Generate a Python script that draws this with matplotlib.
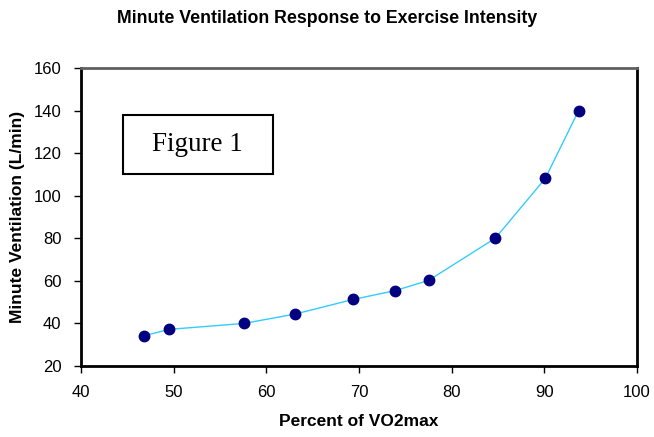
import matplotlib
matplotlib.use("Agg")
import matplotlib.pyplot as plt
from matplotlib.patches import Rectangle

# data
pct_vo2max = [46.8, 49.5, 57.6, 63.1, 69.4, 73.9, 77.5, 84.7, 90.1, 93.7]
ventilation = [34.2, 37.2, 40.0, 44.4, 51.3, 55.4, 60.2, 80.0, 108.1, 140.0]
x_ticks = [40, 50, 60, 70, 80, 90, 100]
y_ticks = [20, 40, 60, 80, 100, 120, 140, 160]

plt.rcParams['font.family'] = ['Liberation Sans', 'DejaVu Sans']

fig = plt.figure(figsize=(6.54, 4.37), dpi=100)
ax = fig.add_axes([0.1239, 0.1625, 0.8501, 0.6819])

ax.plot(pct_vo2max, ventilation, color='#33CCFF', linewidth=1.0, zorder=2)
ax.plot(pct_vo2max, ventilation, 'o', color='#000080', markersize=7.5, zorder=3)

ax.set_xlim(40, 100)
ax.set_ylim(20, 160)
ax.set_xticks(x_ticks)
ax.set_yticks(y_ticks)
ax.tick_params(labelsize=12, direction='out', length=5, width=1, pad=9)

for side in ['left', 'bottom']:
    ax.spines[side].set_linewidth(2)
    ax.spines[side].set_color('black')
ax.spines['top'].set_color('#606060')
ax.spines['top'].set_linewidth(2)
ax.spines['right'].set_color('black')
ax.spines['right'].set_linewidth(2)

ax.set_xlabel('Percent of VO2max', fontsize=12.5, fontweight='bold', labelpad=10)
ax.set_ylabel('Minute Ventilation (L/min)', fontsize=12.5, fontweight='bold', labelpad=6)

fig.text(0.5, 0.958, 'Minute Ventilation Response to Exercise Intensity',
         ha='center', va='center', fontsize=12.8, fontweight='bold')

# "Figure 1" text box
ax.add_patch(Rectangle((0.075, 0.644), 0.27, 0.198, transform=ax.transAxes,
                       facecolor='white', edgecolor='black', linewidth=1.5, zorder=4))
ax.text(0.21, 0.743, 'Figure 1', transform=ax.transAxes, ha='center', va='center',
        fontsize=19.5, family='Liberation Serif', zorder=5)

fig.savefig('out.png', dpi=100)
